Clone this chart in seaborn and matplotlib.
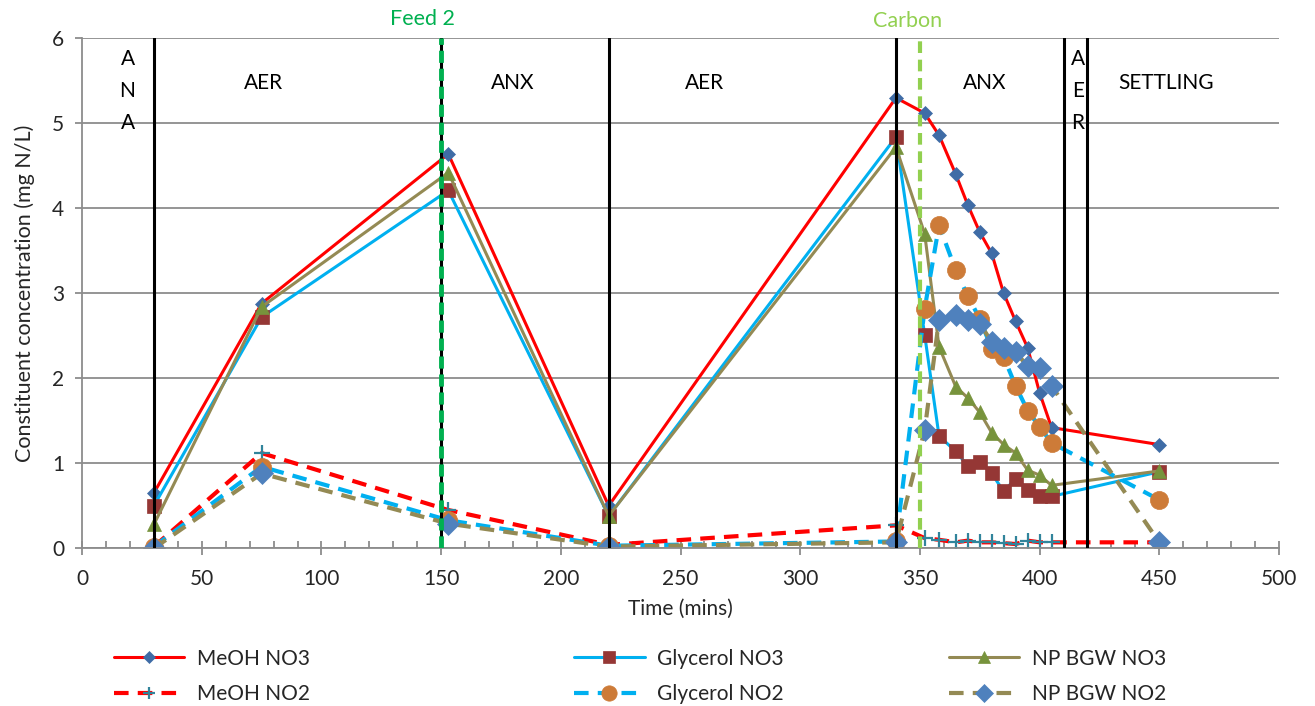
import matplotlib
matplotlib.use("Agg")
import matplotlib.pyplot as plt
import seaborn as sns
import pandas as pd
from matplotlib.lines import Line2D

# Sampling times (minutes)
time = [30, 75, 153, 220, 340, 352, 358, 365, 370, 375, 380, 385, 390, 395, 400, 405, 450]

# Concentrations (mg N/L)
meoh_no3 = [0.65, 2.88, 4.64, 0.50, 5.30, 5.12, 4.86, 4.40, 4.04, 3.72, 3.47, 3.00, 2.67, 2.36, 1.83, 1.42, 1.22]
glycerol_no3 = [0.50, 2.72, 4.21, 0.38, 4.84, 2.51, 1.32, 1.14, 0.97, 1.02, 0.88, 0.67, 0.82, 0.69, 0.62, 0.61, 0.90]
npbgw_no3 = [0.28, 2.84, 4.42, 0.38, 4.72, 3.70, 2.37, 1.90, 1.77, 1.60, 1.36, 1.22, 1.12, 0.92, 0.86, 0.74, 0.91]
meoh_no2 = [0.02, 1.12, 0.45, 0.04, 0.27, 0.12, 0.10, 0.07, 0.09, 0.07, 0.07, 0.06, 0.05, 0.09, 0.07, 0.07, 0.07]
glycerol_no2 = [0.02, 0.96, 0.33, 0.03, 0.08, 2.82, 3.80, 3.27, 2.97, 2.70, 2.35, 2.25, 1.91, 1.62, 1.43, 1.24, 0.57]
npbgw_no2 = [0.00, 0.88, 0.29, 0.02, 0.07, 1.39, 2.69, 2.74, 2.69, 2.64, 2.43, 2.36, 2.31, 2.14, 2.12, 1.91, 0.07]

series_names = ["MeOH NO3", "Glycerol NO3", "NP BGW NO3", "MeOH NO2", "Glycerol NO2", "NP BGW NO2"]
series_values = [meoh_no3, glycerol_no3, npbgw_no3, meoh_no2, glycerol_no2, npbgw_no2]

# Phase boundaries and labels
phase_lines = [30, 150, 220, 340, 410, 420]
phase_labels = ["A\nN\nA", "AER", "ANX", "AER", "ANX", "A\nE\nR", "SETTLING"]
phase_label_x = [19, 76, 180, 260, 377, 416, 453]
feed_time = 150
carbon_time = 350

df = pd.DataFrame({
    "Time": time * len(series_names),
    "Conc": sum(series_values, []),
    "Series": sum([[n] * len(time) for n in series_names], []),
})

styles = {
    "MeOH NO3": dict(color="#FF0000", ls="-", lw=2.2, marker="D", ms=7.5, mfc="#3F6CA6", mec="#3F6CA6", mew=0.5),
    "Glycerol NO3": dict(color="#00B0F0", ls="-", lw=2.2, marker="s", ms=9.5, mfc="#953735", mec="#953735", mew=0.5),
    "NP BGW NO3": dict(color="#948A54", ls="-", lw=2.2, marker="^", ms=10, mfc="#77933C", mec="#77933C", mew=0.5),
    "MeOH NO2": dict(color="#FF0000", ls=(0, (3.5, 2.2)), lw=3.0, marker="+", ms=11, mfc="#31849B", mec="#31849B", mew=1.6),
    "Glycerol NO2": dict(color="#00B0F0", ls=(0, (3.5, 2.2)), lw=3.0, marker="o", ms=13, mfc="#CD7B38", mec="#CD7B38", mew=0.5),
    "NP BGW NO2": dict(color="#948A54", ls=(0, (3.5, 2.2)), lw=3.0, marker="D", ms=11, mfc="#4F81BD", mec="#4F81BD", mew=0.5),
}

sns.set_theme(style="white")
plt.rcParams["font.family"] = ["Lato", "DejaVu Sans"]

fig = plt.figure(figsize=(13.15, 7.06), dpi=100)
ax = fig.add_axes([0.0624, 0.2234, 0.9102, 0.7223])

for name in series_names:
    st = styles[name]
    sns.lineplot(data=df[df["Series"] == name], x="Time", y="Conc", ax=ax, sort=False,
                 estimator=None, color=st["color"], linestyle=st["ls"], linewidth=st["lw"],
                 marker=st["marker"], markersize=st["ms"], markerfacecolor=st["mfc"],
                 markeredgecolor=st["mec"], markeredgewidth=st["mew"], legend=False)

# Phase boundaries
for xv in phase_lines:
    ax.axvline(xv, color="black", lw=2.2, zorder=20)
ax.axvline(feed_time, color="#00B050", lw=3.5, ls=(0, (2.5, 1.2)), zorder=21)
ax.axvline(carbon_time, color="#92D050", lw=3.0, ls=(0, (2.8, 1.6)), zorder=21)

for lab, xv in zip(phase_labels, phase_label_x):
    if "\n" in lab:
        ax.text(xv, 5.88, lab, ha="center", va="top", fontsize=15, linespacing=1.75, color="black")
    else:
        ax.text(xv, 5.47, lab, ha="center", va="center", fontsize=15, color="black")

ax.text(feed_time - 8, 6.11, "Feed 2", ha="center", va="bottom", fontsize=15.5, color="#00B050", clip_on=False)
ax.text(carbon_time - 5, 6.09, "Carbon", ha="center", va="bottom", fontsize=15.5, color="#92D050", clip_on=False)

ax.set_xlim(0, 500)
ax.set_ylim(0, 6)
ax.set_xticks(range(0, 501, 50))
ax.set_xticks(range(0, 501, 10), minor=True)
ax.set_yticks(range(0, 7))
ax.yaxis.grid(True, color="#8C8C8C", lw=1.3)
ax.set_axisbelow(True)
for side in ["top", "right"]:
    ax.spines[side].set_visible(False)
for side in ["left", "bottom"]:
    ax.spines[side].set_color("#8C8C8C")
    ax.spines[side].set_linewidth(1.3)
ax.tick_params(axis="x", which="major", direction="inout", length=10, width=1.3, color="#8C8C8C",
               labelsize=15, pad=10)
ax.tick_params(axis="x", which="minor", direction="in", length=5, width=1.3, color="#8C8C8C")
ax.tick_params(axis="y", which="major", direction="out", length=5, width=1.3, color="#8C8C8C",
               labelsize=15, pad=8)
ax.tick_params(bottom=True, left=True, which="both")
ax.set_xlabel("Time (mins)", fontsize=15, labelpad=7)
ax.set_ylabel("Constituent concentration (mg N/L)", fontsize=15.5, labelpad=12)

# Legend: three columns of two entries
def handle(name):
    st = styles[name]
    return Line2D([], [], color=st["color"], ls=st["ls"], lw=st["lw"], marker=st["marker"],
                  ms=st["ms"] * 0.85, mfc=st["mfc"], mec=st["mec"], mew=st["mew"])

col_x = [0.08, 0.43, 0.715]
for i, cx in enumerate(col_x):
    names = [series_names[i], series_names[i + 3]]
    fig.legend([handle(n) for n in names], names, loc="upper left", bbox_to_anchor=(cx, 0.093),
               frameon=False, fontsize=15, handlelength=3.4, labelspacing=0.75, handletextpad=0.6,
               borderaxespad=0)

fig.savefig("out.png", dpi=100)
